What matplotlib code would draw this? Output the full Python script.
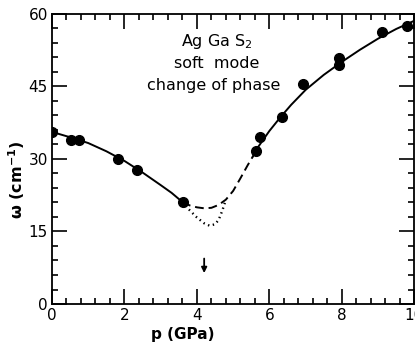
import matplotlib

matplotlib.use("Agg")
import matplotlib.pyplot as plt
import numpy as np
from matplotlib.ticker import MultipleLocator

# measured points
p_pts = [0.0, 0.52, 0.74, 1.82, 2.34, 3.61, 5.62, 5.73, 6.34, 6.94, 7.93, 7.93, 9.12, 9.81]
w_pts = [35.6, 34.0, 34.0, 30.0, 27.7, 21.1, 31.7, 34.6, 38.7, 45.5, 49.5, 50.9, 56.3, 57.6]

# guide curves
p_solid_lo = [0.0, 0.5, 1.0, 1.5, 2.0, 2.5, 3.0, 3.3, 3.6]
w_solid_lo = [35.6, 34.5, 33.3, 31.6, 29.6, 27.2, 24.6, 23.0, 21.1]
p_dash = [3.6, 3.8, 4.0, 4.2, 4.4, 4.6, 4.8, 5.0, 5.2, 5.4, 5.55]
w_dash = [21.1, 20.4, 20.0, 19.8, 19.9, 20.5, 21.6, 23.4, 26.0, 28.7, 30.6]
p_solid_hi = [5.55, 5.7, 6.0, 6.3, 6.6, 7.0, 7.5, 8.0, 8.5, 9.0, 9.5, 10.0]
w_solid_hi = [30.6, 32.6, 35.8, 38.6, 41.2, 44.3, 47.4, 50.1, 52.6, 54.9, 56.9, 58.6]
p_dot = [3.6, 3.8, 4.0, 4.2, 4.35, 4.5, 4.6, 4.7, 4.8]
w_dot = [21.1, 19.4, 17.9, 16.7, 16.2, 16.5, 17.4, 19.3, 21.6]

p_transition = 4.2

fig = plt.figure(figsize=(4.15, 3.43), dpi=100)
ax = fig.add_axes([0.1253, 0.1137, 0.873, 0.8455])

ax.plot(p_solid_lo, w_solid_lo, color="black", lw=1.4)
ax.plot(p_solid_hi, w_solid_hi, color="black", lw=1.4)
ax.plot(p_dash, w_dash, color="black", lw=1.4, dashes=(4.5, 2.5))
ax.plot(p_dot, w_dot, color="black", lw=1.7, dashes=(0.6, 1.5))
ax.plot(p_pts, w_pts, "o", color="black", ms=7, zorder=3)

ax.annotate("", xy=(p_transition, 6.4), xytext=(p_transition, 9.4),
            arrowprops=dict(arrowstyle="-|>", color="black", lw=1.3,
                            mutation_scale=8, shrinkA=0, shrinkB=0))

ax.text(4.55, 54.3, r"Ag Ga S$_2$", ha="center", va="center", fontsize=11.5)
ax.text(4.55, 49.8, "soft  mode", ha="center", va="center", fontsize=11.5)
ax.text(4.45, 45.2, "change of phase", ha="center", va="center", fontsize=11.5)

ax.set_xlim(0, 10)
ax.set_ylim(0, 60)
ax.xaxis.set_major_locator(MultipleLocator(2))
ax.xaxis.set_minor_locator(MultipleLocator(0.4))
ax.yaxis.set_major_locator(MultipleLocator(15))
ax.yaxis.set_minor_locator(MultipleLocator(3))
ax.tick_params(which="both", direction="in", top=True, right=True, width=1.2,
               labelsize=11, pad=3)
ax.tick_params(which="major", length=11)
ax.tick_params(which="minor", length=4.5)
for s in ax.spines.values():
    s.set_linewidth(1.3)

ax.set_xlabel("p (GPa)", fontsize=11, fontweight="bold")
ax.set_ylabel(r"ω (cm$^{\mathbf{-1}}$)", fontsize=11.5, fontweight="bold")
ax.xaxis.set_label_coords(0.36, -0.08)
ax.yaxis.set_label_coords(-0.068, 0.43)

fig.savefig("out.png", dpi=100)
